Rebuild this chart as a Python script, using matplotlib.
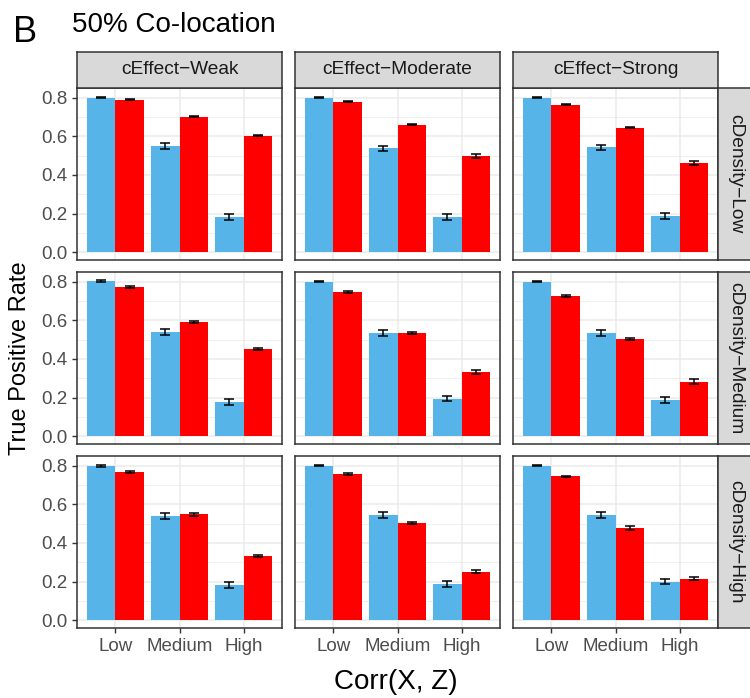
import matplotlib
matplotlib.use("Agg")
import matplotlib.pyplot as plt
import numpy as np

plt.rcParams['font.family'] = ['Liberation Sans', 'DejaVu Sans']

corr_levels = ["Low", "Medium", "High"]
effects = ["cEffect\u2212Weak", "cEffect\u2212Moderate", "cEffect\u2212Strong"]
densities = ["cDensity\u2212Low", "cDensity\u2212Medium", "cDensity\u2212High"]

# rows: density (Low, Medium, High); cols: effect (Weak, Moderate, Strong)
tpr_blue = [
    [[0.800, 0.548, 0.182], [0.800, 0.537, 0.182], [0.800, 0.542, 0.187]],
    [[0.803, 0.540, 0.179], [0.800, 0.535, 0.194], [0.800, 0.535, 0.189]],
    [[0.797, 0.539, 0.184], [0.800, 0.544, 0.189], [0.800, 0.544, 0.199]],
]
tpr_red = [
    [[0.790, 0.702, 0.604], [0.779, 0.661, 0.500], [0.764, 0.645, 0.460]],
    [[0.772, 0.592, 0.452], [0.747, 0.535, 0.334], [0.726, 0.504, 0.282]],
    [[0.766, 0.549, 0.333], [0.755, 0.503, 0.251], [0.745, 0.477, 0.215]],
]
err_blue = [
    [[0.003, 0.016, 0.015], [0.003, 0.015, 0.015], [0.003, 0.014, 0.016]],
    [[0.003, 0.016, 0.015], [0.003, 0.016, 0.014], [0.003, 0.015, 0.015]],
    [[0.004, 0.016, 0.016], [0.003, 0.015, 0.015], [0.003, 0.017, 0.013]],
]
err_red = [
    [[0.003, 0.004, 0.005], [0.003, 0.004, 0.010], [0.004, 0.004, 0.011]],
    [[0.004, 0.006, 0.005], [0.005, 0.005, 0.010], [0.006, 0.006, 0.012]],
    [[0.006, 0.008, 0.006], [0.005, 0.007, 0.008], [0.004, 0.009, 0.009]],
]

BLUE = "#56B4E9"
RED = "#FF0000"
GRID = "#EBEBEB"
BORDER = "#333333"

W, H = 750, 698
fig = plt.figure(figsize=(W / 100, H / 100), dpi=100)

col_x = [77, 295, 513]
pw = 205
row_y = [88, 272, 456]
ph = 172
strip_h = 36

def fa(x0, y0, w, h):
    return [x0 / W, 1 - (y0 + h) / H, w / W, h / H]

x = np.arange(1, 4)
bw = 0.45
for r in range(3):
    for c in range(3):
        ax = fig.add_axes(fa(col_x[c], row_y[r], pw, ph))
        ax.set_xlim(0.4, 3.6)
        ax.set_ylim(-0.0405, 0.85)
        ax.set_yticks([0, 0.2, 0.4, 0.6, 0.8])
        ax.set_yticks([0.1, 0.3, 0.5, 0.7], minor=True)
        ax.set_xticks(x)
        ax.grid(True, which="major", color=GRID, lw=1.1, zorder=0)
        ax.grid(True, which="minor", axis="y", color=GRID, lw=0.55, zorder=0)
        ax.set_axisbelow(True)
        ax.bar(x - bw / 2, tpr_blue[r][c], width=bw, color=BLUE, zorder=2)
        ax.bar(x + bw / 2, tpr_red[r][c], width=bw, color=RED, zorder=2)
        ax.errorbar(x - bw / 2, tpr_blue[r][c], yerr=err_blue[r][c], fmt="none",
                    ecolor="black", elinewidth=1.1, capsize=3.3, capthick=1.1, zorder=3)
        ax.errorbar(x + bw / 2, tpr_red[r][c], yerr=err_red[r][c], fmt="none",
                    ecolor="black", elinewidth=1.1, capsize=3.3, capthick=1.1, zorder=3)
        for s in ax.spines.values():
            s.set_color(BORDER)
            s.set_linewidth(1.1)
        ax.tick_params(which="major", length=3.5, width=1.0, color=BORDER,
                       labelsize=13.5, labelcolor="#4D4D4D", pad=3.5)
        ax.tick_params(which="minor", length=0)
        if c == 0:
            ax.set_yticklabels(["0.0", "0.2", "0.4", "0.6", "0.8"])
        else:
            ax.tick_params(axis="y", which="major", length=0, labelleft=False)
        if r == 2:
            ax.set_xticklabels(corr_levels)
        else:
            ax.tick_params(axis="x", length=0, labelbottom=False)

# top strips
for c in range(3):
    sa = fig.add_axes(fa(col_x[c], 52, pw, strip_h))
    sa.set_facecolor("#D9D9D9")
    sa.set_xticks([]); sa.set_yticks([])
    for s in sa.spines.values():
        s.set_color(BORDER); s.set_linewidth(1.1)
    sa.text(0.5, 0.5, effects[c], ha="center", va="center", fontsize=13.8,
            color="#1A1A1A", transform=sa.transAxes)

# right strips
for r in range(3):
    sa = fig.add_axes(fa(718, row_y[r], strip_h, ph))
    sa.set_facecolor("#D9D9D9")
    sa.set_xticks([]); sa.set_yticks([])
    for s in sa.spines.values():
        s.set_color(BORDER); s.set_linewidth(1.1)
    sa.text(0.5, 0.5, densities[r], ha="center", va="center", fontsize=13.8,
            color="#1A1A1A", rotation=-90, transform=sa.transAxes)

fig.text(396 / W, 1 - 682 / H, "Corr(X, Z)", ha="center", va="center", fontsize=20)
fig.text(20 / W, 1 - 358 / H, "True Positive Rate", ha="center", va="center",
         fontsize=17, rotation=90)
fig.text(13 / W, 1 - 42 / H, "B", ha="left", va="baseline", fontsize=26)
fig.text(72 / W, 1 - 32 / H, "50% Co-location", ha="left", va="baseline", fontsize=20)

fig.savefig("out.png", dpi=100)
